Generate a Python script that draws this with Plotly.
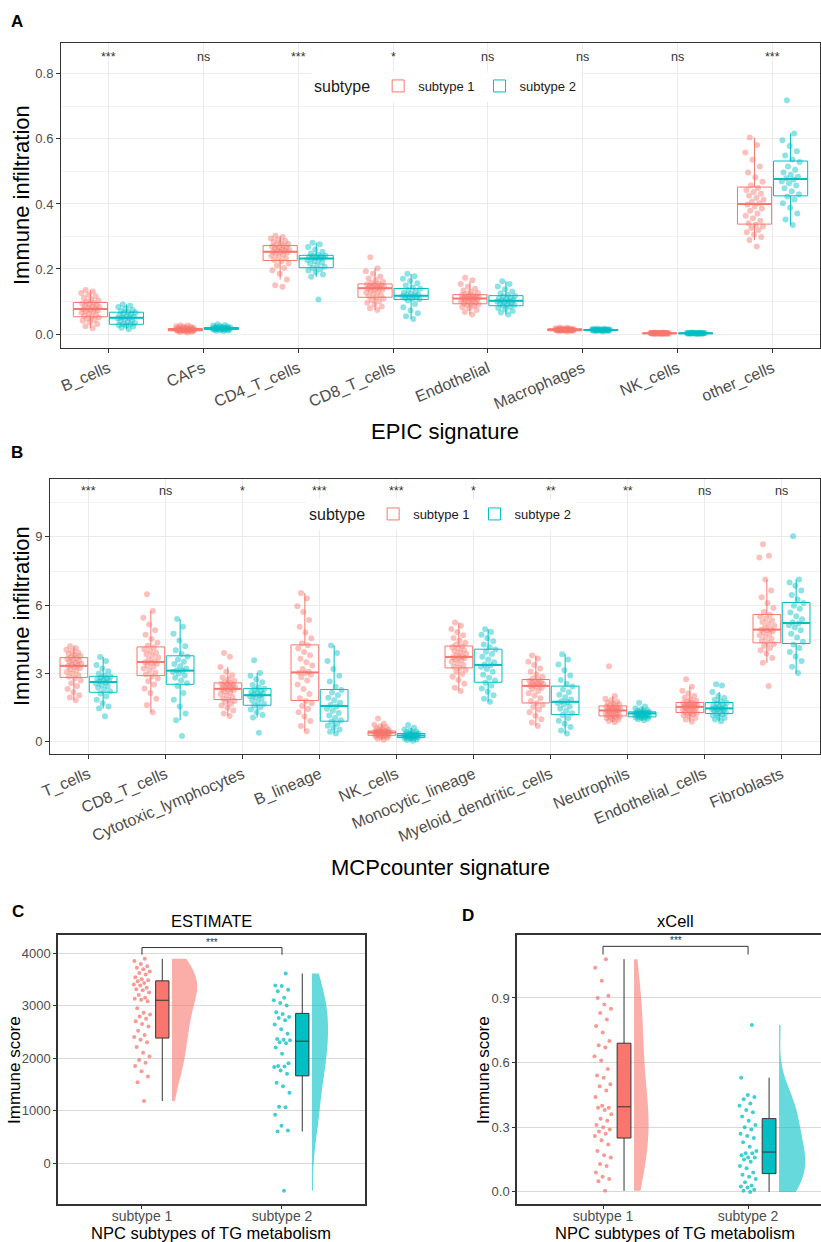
import plotly.graph_objects as go

W, H = 821, 1242
RED, TEAL = '#F8766D', '#00BFC4'
RED_FILL, TEAL_FILL = 'rgba(248,118,109,0.6)', 'rgba(0,191,196,0.6)'
FONT = 'Liberation Sans, Arial, sans-serif'
GREY_TXT = '#4D4D4D'

# ---------------- Panel A : EPIC ----------------
epic_categories = ['B_cells', 'CAFs', 'CD4_T_cells', 'CD8_T_cells', 'Endothelial',
                   'Macrophages', 'NK_cells', 'other_cells']
epic_signif = ['***', 'ns', '***', '*', 'ns', 'ns', 'ns', '***']
epic_s1_q1 = [0.053, 0.010, 0.226, 0.113, 0.093, 0.010, 0.001, 0.338]
epic_s1_med = [0.077, 0.013, 0.253, 0.141, 0.109, 0.013, 0.002, 0.400]
epic_s1_q3 = [0.097, 0.017, 0.272, 0.154, 0.121, 0.016, 0.003, 0.452]
epic_s1_lo = [0.018, 0.005, 0.168, 0.074, 0.060, 0.008, 0.000, 0.289]
epic_s1_hi = [0.135, 0.027, 0.302, 0.202, 0.160, 0.020, 0.005, 0.604]
epic_s2_q1 = [0.030, 0.014, 0.204, 0.106, 0.087, 0.011, 0.001, 0.425]
epic_s2_med = [0.050, 0.017, 0.232, 0.118, 0.102, 0.012, 0.002, 0.477]
epic_s2_q3 = [0.067, 0.020, 0.242, 0.140, 0.118, 0.014, 0.003, 0.532]
epic_s2_lo = [0.015, 0.009, 0.176, 0.046, 0.060, 0.008, 0.000, 0.335]
epic_s2_hi = [0.091, 0.030, 0.281, 0.185, 0.162, 0.017, 0.005, 0.617]

epic_s1_points = [
    [0.018, 0.024, 0.031, 0.036, 0.041, 0.044, 0.048, 0.051, 0.053, 0.056, 0.059, 0.062, 0.066, 0.069, 0.071, 0.073, 0.075, 0.076,
     0.078, 0.080, 0.083, 0.085, 0.087, 0.089, 0.092, 0.094, 0.096, 0.099, 0.103, 0.107, 0.111, 0.116, 0.121, 0.126, 0.131, 0.135],
    [0.005, 0.006, 0.007, 0.008, 0.009, 0.009, 0.010, 0.010, 0.010, 0.011, 0.011, 0.012, 0.012, 0.012, 0.013, 0.013, 0.013, 0.013,
     0.014, 0.014, 0.014, 0.015, 0.015, 0.016, 0.016, 0.017, 0.017, 0.018, 0.019, 0.020, 0.021, 0.022, 0.023, 0.024, 0.026, 0.027],
    [0.145, 0.150, 0.168, 0.185, 0.196, 0.203, 0.211, 0.218, 0.224, 0.228, 0.233, 0.237, 0.241, 0.244, 0.247, 0.250, 0.252, 0.253,
     0.255, 0.257, 0.259, 0.261, 0.263, 0.265, 0.267, 0.269, 0.271, 0.274, 0.277, 0.280, 0.283, 0.286, 0.290, 0.294, 0.298, 0.302],
    [0.074, 0.079, 0.085, 0.091, 0.096, 0.101, 0.105, 0.109, 0.112, 0.115, 0.119, 0.123, 0.127, 0.130, 0.133, 0.136, 0.138, 0.140,
     0.142, 0.143, 0.145, 0.146, 0.148, 0.149, 0.151, 0.152, 0.154, 0.157, 0.161, 0.166, 0.171, 0.177, 0.185, 0.193, 0.202, 0.236],
    [0.060, 0.068, 0.074, 0.079, 0.083, 0.086, 0.089, 0.091, 0.093, 0.095, 0.097, 0.099, 0.101, 0.103, 0.105, 0.106, 0.108, 0.109,
     0.110, 0.111, 0.112, 0.113, 0.114, 0.116, 0.117, 0.119, 0.120, 0.123, 0.126, 0.130, 0.134, 0.139, 0.146, 0.154, 0.165, 0.173],
    [0.008, 0.009, 0.009, 0.010, 0.010, 0.011, 0.011, 0.011, 0.012, 0.012, 0.012, 0.012, 0.012, 0.013, 0.013, 0.013, 0.013, 0.013,
     0.013, 0.013, 0.014, 0.014, 0.014, 0.014, 0.014, 0.015, 0.015, 0.015, 0.015, 0.016, 0.016, 0.017, 0.017, 0.018, 0.019, 0.020],
    [0.000, 0.000, 0.001, 0.001, 0.001, 0.001, 0.001, 0.001, 0.002, 0.002, 0.002, 0.002, 0.002, 0.002, 0.002, 0.002, 0.002, 0.002,
     0.002, 0.002, 0.002, 0.003, 0.003, 0.003, 0.003, 0.003, 0.003, 0.003, 0.003, 0.003, 0.004, 0.004, 0.004, 0.004, 0.005, 0.005],
    [0.269, 0.289, 0.298, 0.306, 0.313, 0.320, 0.326, 0.331, 0.336, 0.341, 0.348, 0.356, 0.364, 0.371, 0.379, 0.386, 0.392, 0.398,
     0.402, 0.407, 0.413, 0.419, 0.425, 0.431, 0.437, 0.443, 0.449, 0.457, 0.468, 0.482, 0.497, 0.515, 0.536, 0.558, 0.581, 0.604],
]
epic_s2_points = [
    [0.015, 0.019, 0.023, 0.026, 0.028, 0.030, 0.031, 0.034, 0.037, 0.040, 0.043, 0.046, 0.048, 0.050,
     0.051, 0.053, 0.055, 0.058, 0.061, 0.064, 0.066, 0.068, 0.071, 0.074, 0.078, 0.083, 0.087, 0.091],
    [0.009, 0.010, 0.011, 0.012, 0.013, 0.013, 0.014, 0.014, 0.015, 0.015, 0.016, 0.016, 0.017, 0.017,
     0.017, 0.018, 0.018, 0.019, 0.019, 0.020, 0.020, 0.021, 0.022, 0.023, 0.024, 0.026, 0.028, 0.030],
    [0.106, 0.176, 0.183, 0.190, 0.195, 0.199, 0.203, 0.207, 0.212, 0.216, 0.220, 0.224, 0.228, 0.231,
     0.233, 0.234, 0.235, 0.237, 0.238, 0.240, 0.241, 0.244, 0.248, 0.253, 0.260, 0.268, 0.276, 0.281],
    [0.046, 0.055, 0.064, 0.072, 0.082, 0.092, 0.103, 0.107, 0.109, 0.111, 0.113, 0.115, 0.116, 0.117,
     0.119, 0.121, 0.124, 0.127, 0.131, 0.135, 0.139, 0.143, 0.149, 0.156, 0.163, 0.170, 0.178, 0.185],
    [0.060, 0.066, 0.071, 0.076, 0.080, 0.084, 0.087, 0.089, 0.092, 0.094, 0.096, 0.098, 0.100, 0.101,
     0.103, 0.105, 0.107, 0.109, 0.112, 0.115, 0.117, 0.120, 0.125, 0.131, 0.138, 0.146, 0.154, 0.162],
    [0.008, 0.009, 0.009, 0.010, 0.010, 0.011, 0.011, 0.011, 0.011, 0.012, 0.012, 0.012, 0.012, 0.012,
     0.012, 0.013, 0.013, 0.013, 0.013, 0.013, 0.014, 0.014, 0.014, 0.015, 0.015, 0.016, 0.016, 0.017],
    [0.000, 0.001, 0.001, 0.001, 0.001, 0.001, 0.002, 0.002, 0.002, 0.002, 0.002, 0.002, 0.002, 0.002,
     0.002, 0.002, 0.002, 0.003, 0.003, 0.003, 0.003, 0.003, 0.003, 0.003, 0.004, 0.004, 0.004, 0.005],
    [0.335, 0.352, 0.371, 0.388, 0.402, 0.414, 0.423, 0.430, 0.439, 0.448, 0.457, 0.464, 0.470, 0.475,
     0.479, 0.484, 0.490, 0.497, 0.505, 0.515, 0.529, 0.537, 0.549, 0.562, 0.578, 0.596, 0.617, 0.719],
]

# ---------------- Panel B : MCPcounter ----------------
mcp_categories = ['T_cells', 'CD8_T_cells', 'Cytotoxic_lymphocytes', 'B_lineage', 'NK_cells',
                  'Monocytic_lineage', 'Myeloid_dendritic_cells', 'Neutrophils', 'Endothelial_cells', 'Fibroblasts']
mcp_signif = ['***', 'ns', '*', '***', '***', '*', '**', '**', 'ns', 'ns']
mcp_s1_q1 = [2.83, 2.91, 1.86, 1.82, 0.29, 3.25, 1.71, 1.14, 1.29, 4.35]
mcp_s1_med = [3.34, 3.51, 2.33, 3.05, 0.41, 3.73, 2.46, 1.38, 1.54, 4.93]
mcp_s1_q3 = [3.70, 4.17, 2.59, 4.26, 0.48, 4.21, 2.74, 1.58, 1.73, 5.59]
mcp_s1_lo = [1.83, 1.30, 1.14, 0.47, 0.10, 2.24, 0.70, 0.86, 0.88, 3.47]
mcp_s1_hi = [4.20, 5.75, 3.29, 6.54, 0.80, 5.24, 3.79, 2.02, 2.42, 7.13]
mcp_s2_q1 = [2.18, 2.53, 1.61, 0.91, 0.19, 2.62, 1.20, 1.10, 1.25, 4.32]
mcp_s2_med = [2.63, 3.13, 2.05, 1.58, 0.28, 3.38, 1.76, 1.25, 1.47, 5.22]
mcp_s2_q3 = [2.88, 3.78, 2.34, 2.30, 0.37, 4.07, 2.45, 1.32, 1.73, 6.12]
mcp_s2_lo = [1.47, 0.95, 1.07, 0.37, 0.05, 1.76, 0.37, 0.95, 0.91, 3.03]
mcp_s2_hi = [3.73, 5.39, 3.03, 4.23, 0.62, 4.95, 3.85, 1.55, 2.19, 7.13]

mcp_s1_points = [
    [1.83, 1.95, 2.05, 2.18, 2.32, 2.45, 2.58, 2.70, 2.80, 2.86, 2.93, 3.00, 3.07, 3.13, 3.19, 3.24, 3.29, 3.33,
     3.36, 3.40, 3.44, 3.48, 3.52, 3.56, 3.60, 3.64, 3.68, 3.72, 3.77, 3.82, 3.87, 3.92, 3.98, 4.05, 4.12, 4.20],
    [1.30, 1.62, 1.90, 2.15, 2.35, 2.52, 2.66, 2.78, 2.88, 2.96, 3.05, 3.14, 3.22, 3.30, 3.37, 3.43, 3.48, 3.50,
     3.54, 3.62, 3.70, 3.78, 3.85, 3.92, 3.99, 4.06, 4.14, 4.22, 4.35, 4.52, 4.70, 4.90, 5.15, 5.45, 5.75, 6.48],
    [1.14, 1.25, 1.38, 1.50, 1.60, 1.68, 1.75, 1.80, 1.85, 1.90, 1.97, 2.04, 2.10, 2.16, 2.22, 2.27, 2.30, 2.32,
     2.35, 2.38, 2.41, 2.44, 2.47, 2.50, 2.53, 2.55, 2.58, 2.62, 2.68, 2.75, 2.83, 2.93, 3.08, 3.29, 3.74, 3.90],
    [0.47, 0.70, 0.92, 1.12, 1.30, 1.45, 1.58, 1.70, 1.80, 1.92, 2.10, 2.32, 2.52, 2.70, 2.84, 2.95, 3.02, 3.04,
     3.08, 3.20, 3.35, 3.50, 3.65, 3.80, 3.95, 4.10, 4.24, 4.32, 4.55, 4.80, 5.05, 5.35, 5.70, 5.95, 6.30, 6.54],
    [0.10, 0.14, 0.18, 0.21, 0.24, 0.26, 0.27, 0.28, 0.29, 0.31, 0.33, 0.35, 0.36, 0.37, 0.38, 0.39, 0.40, 0.41,
     0.41, 0.42, 0.43, 0.44, 0.44, 0.45, 0.46, 0.47, 0.48, 0.50, 0.53, 0.56, 0.60, 0.64, 0.69, 0.75, 0.80, 1.03],
    [2.24, 2.38, 2.55, 2.72, 2.86, 2.98, 3.08, 3.16, 3.24, 3.30, 3.38, 3.45, 3.52, 3.58, 3.63, 3.67, 3.70, 3.72,
     3.75, 3.80, 3.86, 3.92, 3.98, 4.04, 4.10, 4.15, 4.20, 4.26, 4.35, 4.45, 4.56, 4.68, 4.82, 4.96, 5.10, 5.24],
    [0.70, 0.85, 1.00, 1.15, 1.30, 1.42, 1.53, 1.62, 1.70, 1.80, 1.92, 2.04, 2.14, 2.24, 2.32, 2.38, 2.43, 2.45,
     2.48, 2.51, 2.54, 2.57, 2.60, 2.63, 2.66, 2.69, 2.73, 2.78, 2.86, 2.96, 3.08, 3.22, 3.38, 3.52, 3.66, 3.79],
    [0.86, 0.92, 0.97, 1.01, 1.05, 1.08, 1.10, 1.12, 1.14, 1.17, 1.20, 1.23, 1.26, 1.29, 1.32, 1.34, 1.36, 1.38,
     1.39, 1.41, 1.43, 1.45, 1.47, 1.49, 1.51, 1.54, 1.57, 1.60, 1.64, 1.68, 1.72, 1.77, 1.83, 1.90, 2.02, 3.32],
    [0.88, 0.98, 1.05, 1.12, 1.17, 1.21, 1.24, 1.27, 1.29, 1.32, 1.36, 1.40, 1.43, 1.46, 1.49, 1.51, 1.53, 1.54,
     1.56, 1.58, 1.60, 1.62, 1.64, 1.66, 1.68, 1.70, 1.72, 1.76, 1.81, 1.87, 1.94, 2.02, 2.12, 2.25, 2.42, 2.75],
    [2.46, 3.47, 3.68, 3.88, 4.02, 4.12, 4.22, 4.30, 4.36, 4.44, 4.53, 4.61, 4.68, 4.75, 4.81, 4.86, 4.90, 4.92,
     4.95, 5.02, 5.10, 5.18, 5.26, 5.34, 5.42, 5.50, 5.58, 5.70, 5.88, 6.10, 6.35, 6.65, 7.13, 8.10, 8.17, 8.68],
]
mcp_s2_points = [
    [1.13, 1.47, 1.55, 1.70, 1.85, 2.00, 2.12, 2.22, 2.30, 2.38, 2.45, 2.51, 2.56, 2.61,
     2.65, 2.69, 2.72, 2.76, 2.80, 2.83, 2.87, 2.92, 3.00, 3.10, 3.22, 3.38, 3.55, 3.73],
    [0.26, 0.95, 1.25, 1.55, 1.85, 2.15, 2.45, 2.58, 2.70, 2.82, 2.92, 3.00, 3.07, 3.12,
     3.15, 3.22, 3.32, 3.42, 3.52, 3.62, 3.75, 3.86, 4.02, 4.20, 4.45, 4.75, 5.05, 5.39],
    [0.40, 1.07, 1.18, 1.30, 1.42, 1.52, 1.60, 1.66, 1.74, 1.82, 1.90, 1.96, 2.01, 2.04,
     2.07, 2.11, 2.15, 2.19, 2.24, 2.29, 2.33, 2.40, 2.50, 2.62, 2.75, 2.90, 3.03, 3.58],
    [0.37, 0.45, 0.55, 0.63, 0.71, 0.80, 0.88, 0.95, 1.05, 1.16, 1.27, 1.37, 1.46, 1.55,
     1.62, 1.72, 1.83, 1.94, 2.05, 2.17, 2.28, 2.42, 2.65, 2.90, 3.20, 3.55, 3.90, 4.23],
    [0.05, 0.08, 0.11, 0.13, 0.15, 0.17, 0.19, 0.20, 0.22, 0.23, 0.25, 0.26, 0.27, 0.28,
     0.29, 0.30, 0.31, 0.32, 0.34, 0.35, 0.37, 0.39, 0.42, 0.46, 0.50, 0.55, 0.62, 0.74],
    [1.76, 1.90, 2.05, 2.20, 2.35, 2.48, 2.60, 2.70, 2.82, 2.95, 3.08, 3.20, 3.30, 3.36,
     3.40, 3.50, 3.62, 3.74, 3.86, 3.96, 4.06, 4.15, 4.28, 4.42, 4.56, 4.70, 4.83, 4.95],
    [0.37, 0.50, 0.65, 0.80, 0.93, 1.05, 1.18, 1.26, 1.36, 1.46, 1.56, 1.64, 1.70, 1.75,
     1.78, 1.86, 1.96, 2.07, 2.18, 2.30, 2.43, 2.55, 2.72, 2.92, 3.15, 3.40, 3.62, 3.85],
    [0.95, 0.99, 1.02, 1.05, 1.07, 1.09, 1.10, 1.12, 1.14, 1.16, 1.18, 1.20, 1.22, 1.24,
     1.25, 1.26, 1.27, 1.28, 1.29, 1.30, 1.31, 1.33, 1.36, 1.39, 1.43, 1.48, 1.55, 1.72],
    [0.91, 0.98, 1.05, 1.11, 1.16, 1.21, 1.24, 1.28, 1.32, 1.36, 1.40, 1.43, 1.45, 1.47,
     1.49, 1.52, 1.56, 1.60, 1.64, 1.68, 1.72, 1.78, 1.85, 1.93, 2.02, 2.19, 2.48, 2.53],
    [3.03, 3.30, 3.55, 3.75, 3.95, 4.12, 4.28, 4.40, 4.58, 4.75, 4.90, 5.02, 5.12, 5.20,
     5.25, 5.38, 5.52, 5.68, 5.85, 5.98, 6.10, 6.25, 6.45, 6.65, 6.85, 7.00, 7.13, 9.03],
]

# ---------------- Panels C / D : raincloud ----------------
subtype_labels = ['subtype 1', 'subtype 2']
estimate_s1 = [1180, 1540, 1650, 1750, 1850, 1910, 1960, 2030, 2100, 2210, 2300, 2350,
               2400, 2440, 2520, 2600, 2650, 2700, 2750, 2790, 2830, 2860, 2950, 3080,
               3110, 3130, 3150, 3200, 3250, 3290, 3310, 3340, 3380, 3400, 3430, 3460,
               3480, 3500, 3540, 3590, 3620, 3650, 3690, 3720, 3750, 3790, 3850, 3890]
estimate_s2 = [-530, 600, 620, 710, 920, 1060, 1070, 1340, 1460, 1530,
               1700, 1760, 1830, 1840, 1850, 1900, 2080, 2200, 2280, 2300,
               2340, 2350, 2360, 2460, 2550, 2640, 2720, 2760, 2780, 2840,
               2870, 3000, 3050, 3100, 3150, 3270, 3300, 3370, 3380, 3610]
estimate_q1 = [2380, 1660]
estimate_med = [3100, 2320]
estimate_q3 = [3470, 2850]
estimate_lo = [1180, 600]
estimate_hi = [3890, 3610]

xcell_s1 = [0.005, 0.05, 0.06, 0.07, 0.09, 0.12, 0.13, 0.16, 0.17, 0.19, 0.22, 0.24,
            0.26, 0.27, 0.28, 0.29, 0.30, 0.31, 0.33, 0.34, 0.36, 0.38, 0.39, 0.39,
            0.40, 0.44, 0.47, 0.49, 0.50, 0.53, 0.54, 0.57, 0.61, 0.63, 0.67, 0.68,
            0.70, 0.74, 0.77, 0.80, 0.83, 0.85, 0.87, 0.90, 0.91, 0.98, 1.04, 1.08]
xcell_s2 = [0.0, 0.005, 0.01, 0.02, 0.025, 0.03, 0.045, 0.06, 0.07, 0.08,
            0.09, 0.11, 0.12, 0.14, 0.15, 0.16, 0.16, 0.17, 0.18, 0.18,
            0.19, 0.21, 0.23, 0.25, 0.26, 0.27, 0.29, 0.30, 0.31, 0.33,
            0.35, 0.37, 0.38, 0.40, 0.41, 0.43, 0.44, 0.45, 0.53, 0.775]
xcell_q1 = [0.25, 0.085]
xcell_med = [0.395, 0.185]
xcell_q3 = [0.69, 0.34]
xcell_lo = [0.005, 0.0]
xcell_hi = [1.08, 0.53]


def fx(p):
    return p / W


def fy(p):
    return 1 - p / H


def jitter_offsets(n, half):
    return [half * 2 * (((k + 1) * 0.6180339887498949) % 1.0 - 0.5) for k in range(n)]


fig = go.Figure()
annotations = []
shapes = []


def add_grouped(xa, ya, n_cat, stats, points, legend_name, dodge=0.19, bw=0.36):
    colors = [RED, TEAL]
    for k in range(2):
        q1, med, q3, lo, hi = stats[k]
        off = -dodge if k == 0 else dodge
        pos = [i + off for i in range(n_cat)]
        fig.add_trace(go.Box(
            x=pos, q1=q1, median=med, q3=q3, lowerfence=lo, upperfence=hi,
            width=bw, fillcolor='rgba(255,255,255,0)', line=dict(color=colors[k], width=1),
            whiskerwidth=0, boxpoints=False, name=subtype_labels[k], legend=legend_name,
            showlegend=True, xaxis=xa, yaxis=ya, hoverinfo='skip'))
        mx, my = [], []
        for p, m in zip(pos, med):
            mx += [p - bw / 2, p + bw / 2, None]
            my += [m, m, None]
        fig.add_trace(go.Scatter(x=mx, y=my, mode='lines', line=dict(color=colors[k], width=2),
                                 showlegend=False, xaxis=xa, yaxis=ya, hoverinfo='skip'))
        xs, ys = [], []
        for i, vals in enumerate(points[k]):
            xs += [pos[i] + d for d in jitter_offsets(len(vals), 0.1)]
            ys += vals
        fig.add_trace(go.Scatter(x=xs, y=ys, mode='markers',
                                 marker=dict(color=colors[k], size=6, opacity=0.45, line=dict(width=0)),
                                 showlegend=False, xaxis=xa, yaxis=ya, hoverinfo='skip'))


def add_signif(xa_dom_ref, yref, labels):
    for i, lab in enumerate(labels):
        annotations.append(dict(x=i, y=0.955, xref=xa_dom_ref, yref=yref, text=lab, showarrow=False,
                                font=dict(size=12.5, color='#333333', family=FONT),
                                xanchor='center', yanchor='middle'))


add_grouped('x', 'y', len(epic_categories),
            [(epic_s1_q1, epic_s1_med, epic_s1_q3, epic_s1_lo, epic_s1_hi),
             (epic_s2_q1, epic_s2_med, epic_s2_q3, epic_s2_lo, epic_s2_hi)],
            [epic_s1_points, epic_s2_points], 'legend')
add_signif('x', 'y domain', epic_signif)

add_grouped('x2', 'y2', len(mcp_categories),
            [(mcp_s1_q1, mcp_s1_med, mcp_s1_q3, mcp_s1_lo, mcp_s1_hi),
             (mcp_s2_q1, mcp_s2_med, mcp_s2_q3, mcp_s2_lo, mcp_s2_hi)],
            [mcp_s1_points, mcp_s2_points], 'legend2')
add_signif('x2', 'y2 domain', mcp_signif)


def add_raincloud(xa, ya, s_points, q1, med, q3, lo, hi, vwidths):
    colors = [RED, TEAL]
    fills = [RED_FILL, TEAL_FILL]
    for k in range(2):
        base = k + 1
        vals = s_points[k]
        fig.add_trace(go.Scatter(x=[base + d for d in jitter_offsets(len(vals), 0.06)], y=vals,
                                 mode='markers', marker=dict(color=colors[k], size=4, opacity=0.75),
                                 showlegend=False, xaxis=xa, yaxis=ya, hoverinfo='skip'))
        fig.add_trace(go.Box(x=[base + 0.145], q1=[q1[k]], median=[med[k]], q3=[q3[k]],
                             lowerfence=[lo[k]], upperfence=[hi[k]], width=0.095,
                             fillcolor=colors[k], line=dict(color='#333333', width=1),
                             whiskerwidth=0, boxpoints=False, showlegend=False,
                             xaxis=xa, yaxis=ya, hoverinfo='skip'))
        fig.add_trace(go.Violin(x=[base + 0.214] * len(vals), y=vals, side='positive',
                                width=vwidths[k], points=False, box_visible=False,
                                meanline_visible=False, fillcolor=fills[k],
                                line=dict(width=0, color=fills[k]), spanmode='hard',
                                showlegend=False, xaxis=xa, yaxis=ya, hoverinfo='skip'))
    top = max(max(s_points[0]), max(s_points[1]))
    shapes.append(dict(type='path', xref=xa, yref=ya,
                       path=f'M 1,{top * 1.02} L 1,{top * 1.055} L 2,{top * 1.055} L 2,{top * 1.02}',
                       line=dict(color='#333333', width=1)))
    annotations.append(dict(x=1.5, y=top * 1.078, xref=xa, yref=ya, text='***', showarrow=False,
                            font=dict(size=10, color='#333333', family=FONT),
                            xanchor='center', yanchor='middle'))


add_raincloud('x3', 'y3', [estimate_s1, estimate_s2], estimate_q1, estimate_med, estimate_q3,
              estimate_lo, estimate_hi, [0.36, 0.23])
add_raincloud('x4', 'y4', [xcell_s1, xcell_s2], xcell_q1, xcell_med, xcell_q3,
              xcell_lo, xcell_hi, [0.2, 0.36])


def txt(xp, yp, text, size, color='black', angle=0, bold=False):
    annotations.append(dict(x=fx(xp), y=fy(yp), xref='paper', yref='paper',
                            text=f'<b>{text}</b>' if bold else text, showarrow=False,
                            textangle=angle, xanchor='center', yanchor='middle',
                            font=dict(size=size, color=color, family=FONT)))


txt(17, 22, 'A', 17, bold=True)
txt(17, 452, 'B', 17, bold=True)
txt(18, 911, 'C', 17, bold=True)
txt(468, 916, 'D', 17, bold=True)
txt(21, 195, 'Immune infiltration', 22, angle=-90)
txt(445, 431, 'EPIC signature', 22)
txt(21, 616, 'Immune infiltration', 22, angle=-90)
txt(440, 867, 'MCPcounter signature', 22)
txt(211, 921, 'ESTIMATE', 16.5)
txt(675, 921, 'xCell', 16.5)
txt(14, 1070, 'Immune score', 17, angle=-90)
txt(483, 1070, 'Immune score', 17, angle=-90)
txt(211, 1233, 'NPC subtypes of TG metabolism', 16.5)
txt(675, 1233, 'NPC subtypes of TG metabolism', 16.5)

tickfont = dict(size=13, color=GREY_TXT, family=FONT)
common = dict(showline=True, linecolor='#333333', linewidth=1, mirror=True, ticks='outside',
              ticklen=4, tickcolor='#333333', zeroline=False, tickfont=tickfont, automargin=False)
rain_common = dict(showline=True, linecolor='#333333', linewidth=1.5, ticks='outside',
                   ticklen=3, tickcolor='#333333', zeroline=False, tickfont=tickfont, automargin=False)
rain_x_font = dict(size=14, color=GREY_TXT, family=FONT)

fig.update_layout(
    width=W, height=H, margin=dict(l=0, r=0, t=0, b=0, autoexpand=False), autosize=False,
    paper_bgcolor='white', plot_bgcolor='white', font=dict(family=FONT),
    xaxis=dict(domain=[fx(61), fx(820)], anchor='y', range=[-0.5, 7.5],
               tickvals=list(range(len(epic_categories))), ticktext=epic_categories,
               tickangle=-23, showgrid=True, gridcolor='#EBEBEB',
               **{**common, 'tickfont': dict(size=16, color=GREY_TXT, family=FONT)}),
    yaxis=dict(domain=[fy(348), fy(43)], anchor='x', range=[-0.043, 0.895],
               tickvals=[0, 0.2, 0.4, 0.6, 0.8], tickformat='.1f', showgrid=True, gridcolor='#EBEBEB',
               minor=dict(tickvals=[0.1, 0.3, 0.5, 0.7], showgrid=True, gridcolor='#F2F2F2', ticks=''),
               **common),
    xaxis2=dict(domain=[fx(50), fx(820)], anchor='y2', range=[-0.5, 9.5],
                tickvals=list(range(len(mcp_categories))), ticktext=mcp_categories,
                tickangle=-23, showgrid=True, gridcolor='#EBEBEB',
                **{**common, 'tickfont': dict(size=16, color=GREY_TXT, family=FONT)}),
    yaxis2=dict(domain=[fy(754), fy(479)], anchor='x2', range=[-0.53, 11.54],
                tickvals=[0, 3, 6, 9], showgrid=True, gridcolor='#EBEBEB',
                minor=dict(tickvals=[1.5, 4.5, 7.5, 10.5], showgrid=True, gridcolor='#F2F2F2', ticks=''),
                **common),
    xaxis3=dict(domain=[fx(58), fx(365)], anchor='y3', range=[0.4, 2.593],
                tickvals=[1, 2], ticktext=subtype_labels, showgrid=False, mirror=True,
                ticklabelstandoff=-5, **{**rain_common, 'tickfont': rain_x_font}),
    yaxis3=dict(domain=[fy(1204), fy(935)], anchor='x3', range=[-781, 4343],
                tickvals=[0, 1000, 2000, 3000, 4000], showgrid=True, gridcolor='#D9D9D9',
                mirror=True, **rain_common),
    xaxis4=dict(domain=[fx(517), 1.0], anchor='y4', range=[0.407, 2.503],
                tickvals=[1, 2], ticktext=subtype_labels, showgrid=False, mirror=True,
                ticklabelstandoff=-5, **{**rain_common, 'tickfont': rain_x_font}),
    yaxis4=dict(domain=[fy(1204), fy(935)], anchor='x4', range=[-0.056, 1.192],
                tickvals=[0, 0.3, 0.6, 0.9], tickformat='.1f', showgrid=True, gridcolor='#D9D9D9',
                mirror=False, **rain_common),
    legend=dict(orientation='h', x=fx(312), y=fy(71), xanchor='left', yanchor='top',
                bgcolor='white', font=dict(size=13, color='#1A1A1A', family=FONT),
                title=dict(text='subtype', font=dict(size=16, color='#1A1A1A', family=FONT), side='left')),
    legend2=dict(orientation='h', x=fx(307), y=fy(499), xanchor='left', yanchor='top',
                 bgcolor='white', font=dict(size=13, color='#1A1A1A', family=FONT),
                 title=dict(text='subtype', font=dict(size=16, color='#1A1A1A', family=FONT), side='left')),
    boxmode='overlay', violinmode='overlay',
    annotations=annotations, shapes=shapes,
)

fig.write_html('out.html')
